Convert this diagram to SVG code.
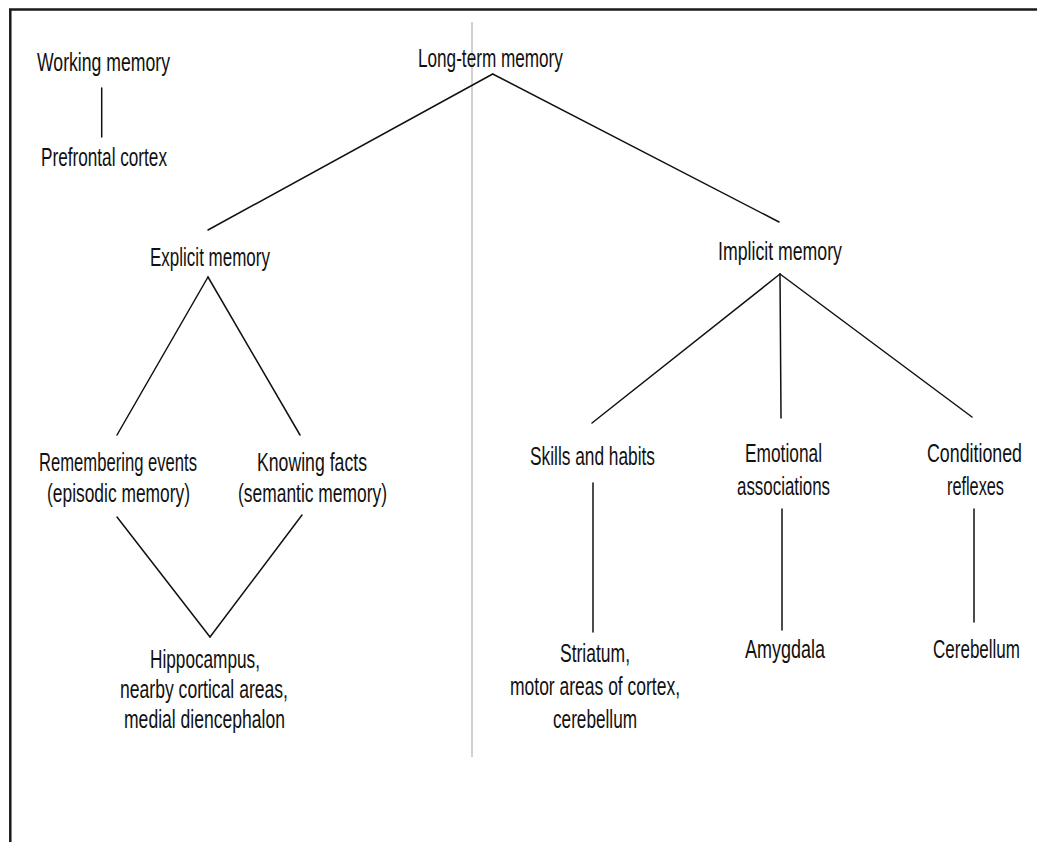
<svg xmlns="http://www.w3.org/2000/svg" width="1037" height="842" viewBox="0 0 1037 842">
<style>
text{font-family:"Liberation Sans",Arial,sans-serif;font-size:25px;fill:#111;}
.c{stroke:#111;stroke-width:1.5;fill:none;stroke-linecap:round;}
.b{stroke:#1a1a1a;stroke-width:2.5;fill:none;}
.fold{stroke:#c2c2c2;stroke-width:1.5;fill:none;}
</style>
<rect width="1037" height="842" fill="#fff"/>
<g id="frame">
<line class="b" x1="9" y1="9.5" x2="1037" y2="9.5"/>
<line class="b" x1="10.3" y1="9" x2="10.3" y2="842"/>
<line class="fold" x1="472" y1="22" x2="472" y2="757"/>
</g>
<g id="connectors">
<line class="c" x1="101.7" y1="88" x2="101.7" y2="137"/>
<line class="c" x1="492.7" y1="74" x2="208" y2="230"/>
<line class="c" x1="492.7" y1="74" x2="779" y2="222"/>
<line class="c" x1="208" y1="277" x2="117" y2="435"/>
<line class="c" x1="208" y1="277" x2="300" y2="435"/>
<line class="c" x1="117" y1="517" x2="210" y2="637"/>
<line class="c" x1="302" y1="515" x2="210" y2="637"/>
<line class="c" x1="780" y1="274" x2="592" y2="423"/>
<line class="c" x1="780" y1="274" x2="781" y2="418"/>
<line class="c" x1="780" y1="274" x2="972" y2="417"/>
<line class="c" x1="593" y1="483" x2="593" y2="632"/>
<line class="c" x1="782" y1="509" x2="782" y2="630"/>
<line class="c" x1="974" y1="509" x2="974" y2="622"/>
</g>
<g id="working-memory"><text transform="matrix(0.7 0 0 1 37 71)" textLength="190" lengthAdjust="spacingAndGlyphs">Working memory</text></g>
<g id="prefrontal-cortex"><text transform="matrix(0.7 0 0 1 41 166)" textLength="180" lengthAdjust="spacingAndGlyphs">Prefrontal cortex</text></g>
<g id="long-term-memory"><text transform="matrix(0.7 0 0 1 418 67)" textLength="207" lengthAdjust="spacingAndGlyphs">Long-term memory</text></g>
<g id="explicit-memory"><text transform="matrix(0.7 0 0 1 150 266)" textLength="171.4" lengthAdjust="spacingAndGlyphs">Explicit memory</text></g>
<g id="implicit-memory"><text transform="matrix(0.7 0 0 1 718 260)" textLength="177.1" lengthAdjust="spacingAndGlyphs">Implicit memory</text></g>
<g id="episodic">
<text transform="matrix(0.7 0 0 1 39 471)" textLength="225.7" lengthAdjust="spacingAndGlyphs">Remembering events</text>
<text transform="matrix(0.7 0 0 1 47 502)" textLength="204.3" lengthAdjust="spacingAndGlyphs">(episodic memory)</text>
</g>
<g id="semantic">
<text transform="matrix(0.7 0 0 1 257 471)" textLength="157.1" lengthAdjust="spacingAndGlyphs">Knowing facts</text>
<text transform="matrix(0.7 0 0 1 238 502)" textLength="212.9" lengthAdjust="spacingAndGlyphs">(semantic memory)</text>
</g>
<g id="hippocampus">
<text transform="matrix(0.7 0 0 1 150 668)" textLength="157.1" lengthAdjust="spacingAndGlyphs">Hippocampus,</text>
<text transform="matrix(0.7 0 0 1 120 698)" textLength="240" lengthAdjust="spacingAndGlyphs">nearby cortical areas,</text>
<text transform="matrix(0.7 0 0 1 124 728)" textLength="230" lengthAdjust="spacingAndGlyphs">medial diencephalon</text>
</g>
<g id="skills"><text transform="matrix(0.7 0 0 1 530 465)" textLength="178.6" lengthAdjust="spacingAndGlyphs">Skills and habits</text></g>
<g id="emotional">
<text transform="matrix(0.7 0 0 1 745 462)" textLength="110" lengthAdjust="spacingAndGlyphs">Emotional</text>
<text transform="matrix(0.7 0 0 1 737 495)" textLength="132.9" lengthAdjust="spacingAndGlyphs">associations</text>
</g>
<g id="conditioned">
<text transform="matrix(0.7 0 0 1 927 462)" textLength="135.7" lengthAdjust="spacingAndGlyphs">Conditioned</text>
<text transform="matrix(0.7 0 0 1 947 495)" textLength="81.4" lengthAdjust="spacingAndGlyphs">reflexes</text>
</g>
<g id="striatum">
<text transform="matrix(0.7 0 0 1 560 662)" textLength="100" lengthAdjust="spacingAndGlyphs">Striatum,</text>
<text transform="matrix(0.7 0 0 1 510 695)" textLength="242.9" lengthAdjust="spacingAndGlyphs">motor areas of cortex,</text>
<text transform="matrix(0.7 0 0 1 553 728)" textLength="120" lengthAdjust="spacingAndGlyphs">cerebellum</text>
</g>
<g id="amygdala"><text transform="matrix(0.7 0 0 1 745 658)" textLength="114.3" lengthAdjust="spacingAndGlyphs">Amygdala</text></g>
<g id="cerebellum"><text transform="matrix(0.7 0 0 1 933 658)" textLength="124.3" lengthAdjust="spacingAndGlyphs">Cerebellum</text></g>
</svg>
